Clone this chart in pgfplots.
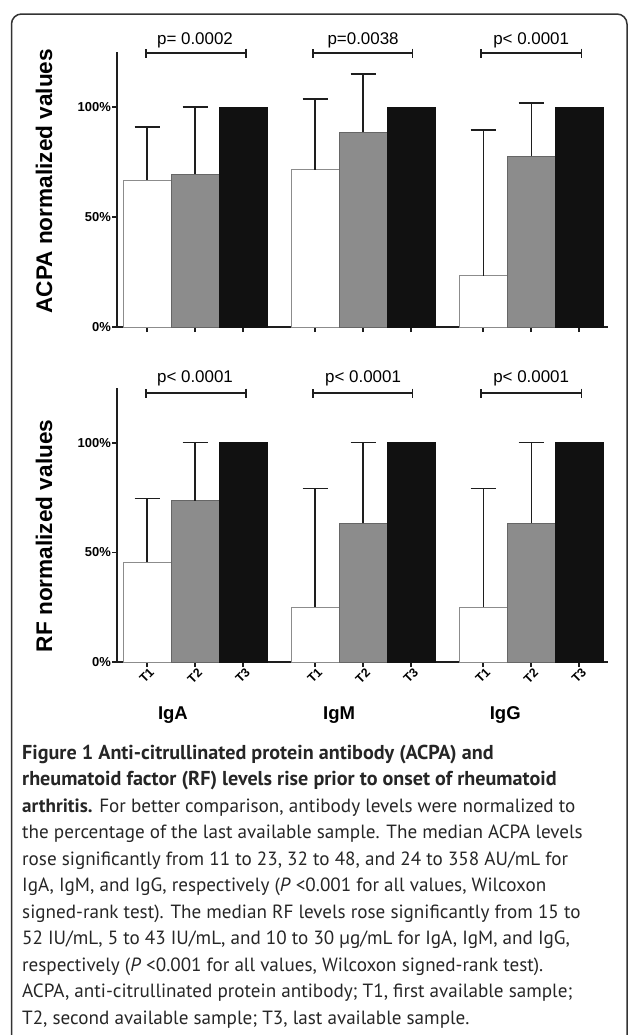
\documentclass[border=0pt]{standalone}
\usepackage{pgfplots}
\pgfplotsset{compat=1.18}
\usepackage{fontspec}
\setmainfont{Liberation Sans}
\newfontfamily\capfont{PT Sans}
\usetikzlibrary{arrows.meta}
\definecolor{barg}{RGB}{140,140,140}
\definecolor{bark}{RGB}{17,17,17}
\definecolor{axc}{RGB}{30,30,30}

\pgfplotsset{
  panel/.style={
    scale only axis, width=491bp,
    xmin=0.375, xmax=10.6, ymin=0, ymax=125,
    axis x line=bottom, axis y line=left,
    axis line style={-, line width=1.5bp, axc},
    ytick={0,50,100}, yticklabels={0\%,50\%,100\%},
    yticklabel style={font=\bfseries\fontsize{13}{13}\selectfont, inner sep=1bp},
    xtick={1,2,3,4.5,5.5,6.5,8,9,10},
    tick align=outside, major tick length=5bp,
    tick style={line width=1.5bp, axc},
    ybar, bar shift=0pt, bar width=1, clip=false,
    ylabel style={font=\bfseries\fontsize{22.7}{22.7}\selectfont, anchor=center},
  },
  t1/.style={fill=white, draw=black!45, line width=1bp},
  t2/.style={fill=barg, draw=black!60, line width=1bp},
  t3/.style={fill=bark, draw=bark, line width=1bp},
  eb/.style={error bars/.cd, y dir=plus, y explicit, error mark=|,
    error bar style={line width=1.3bp, axc},
    error mark options={line width=1.3bp, axc, mark size=12.5bp}},
}
\tikzset{
  brk/.style={line width=1.5bp, axc, {Bar[width=9bp]}-{Bar[width=9bp]}},
  ptxt/.style={anchor=base, inner sep=0pt, font=\fontsize{17}{17}\selectfont},
}

\begin{document}
\begin{tikzpicture}
\path[use as bounding box] (0,0) rectangle (628bp,-1035bp);
\draw[line width=1.5bp, black!80, rounded corners=10bp]
  (11.5bp,-1045bp) -- (11.5bp,-14bp) -- (627bp,-14bp) -- (627bp,-1045bp);

% ACPA panel
\begin{axis}[panel, at={(117bp,-327bp)}, anchor=south west, height=275bp,
  xticklabels={},
  ylabel={ACPA normalized values},
  ylabel style={at={(axis description cs:-0.1487,0.53)}}]
  \addplot[t1, eb] coordinates {(1,66.8) +- (0,24.1) (4.5,71.4) +- (0,32.2) (8,23.2) +- (0,66.3)};
  \addplot[t2, eb] coordinates {(2,69.5) +- (0,30.5) (5.5,88.6) +- (0,26.4) (9,77.7) +- (0,24.1)};
  \addplot[t3] coordinates {(3,100) (6.5,100) (10,100)};
  \draw[brk] (axis cs:0.96,124.5) -- (axis cs:3.08,124.5);
  \draw[brk] (axis cs:4.44,124.5) -- (axis cs:6.54,124.5);
  \draw[brk] (axis cs:7.94,124.5) -- (axis cs:10.06,124.5);
  \node[ptxt] at (axis cs:2.0,128.6) {p= 0.0002};
  \node[ptxt] at (axis cs:5.5,128.6) {p=0.0038};
  \node[ptxt] at (axis cs:9.0,128.6) {p< 0.0001};
\end{axis}

% RF panel
\begin{axis}[panel, at={(117bp,-662bp)}, anchor=south west, height=274bp,
  xticklabels={T1,T2,T3,T1,T2,T3,T1,T2,T3},
  xticklabel style={rotate=45, anchor=east, inner sep=0pt, yshift=-6bp, xshift=1bp,
    font=\bfseries\fontsize{12.5}{12.5}\selectfont},
  ylabel={RF normalized values},
  ylabel style={at={(axis description cs:-0.1487,0.46)}}]
  \addplot[t1, eb] coordinates {(1,45.5) +- (0,29.0) (4.5,25.0) +- (0,54.0) (8,25.0) +- (0,54.0)};
  \addplot[t2, eb] coordinates {(2,73.6) +- (0,26.4) (5.5,63.2) +- (0,36.8) (9,63.2) +- (0,36.8)};
  \addplot[t3] coordinates {(3,100) (6.5,100) (10,100)};
  \draw[brk] (axis cs:0.96,122.7) -- (axis cs:3.08,122.7);
  \draw[brk] (axis cs:4.44,122.7) -- (axis cs:6.54,122.7);
  \draw[brk] (axis cs:7.94,122.7) -- (axis cs:10.06,122.7);
  \node[ptxt] at (axis cs:2.0,127.3) {p< 0.0001};
  \node[ptxt] at (axis cs:5.5,127.3) {p< 0.0001};
  \node[ptxt] at (axis cs:9.0,127.3) {p< 0.0001};
  \node[font=\bfseries\fontsize{18.6}{18.6}\selectfont] at (axis cs:1.54,-24) {IgA};
  \node[font=\bfseries\fontsize{18.6}{18.6}\selectfont] at (axis cs:5.0,-24) {IgM};
  \node[font=\bfseries\fontsize{18.6}{18.6}\selectfont] at (axis cs:8.46,-24) {IgG};
\end{axis}

% caption
\begin{scope}[every node/.style={anchor=base west, inner sep=0pt,
    font=\capfont\fontsize{19.2}{19.2}\selectfont, text=black!85}]
\node[font=\capfont\bfseries\fontsize{20.2}{20.2}\selectfont] at (22bp,-759bp)   {Figure 1 Anti-citrullinated protein antibody (ACPA) and};
\node[font=\capfont\bfseries\fontsize{20.2}{20.2}\selectfont] at (22bp,-785.5bp) {rheumatoid factor (RF) levels rise prior to onset of rheumatoid};
\node at (22bp,-812bp)   {\textbf{arthritis.} For better comparison, antibody levels were normalized to};
\node at (22bp,-838.5bp) {the percentage of the last available sample. The median ACPA levels};
\node at (22bp,-865bp)   {rose significantly from 11 to 23, 32 to 48, and 24 to 358 AU/mL for};
\node at (22bp,-891.5bp) {IgA, IgM, and IgG, respectively (\textit{P} <0.001 for all values, Wilcoxon};
\node at (22bp,-918bp)   {signed-rank test). The median RF levels rose significantly from 15 to};
\node at (22bp,-944.5bp) {52 IU/mL, 5 to 43 IU/mL, and 10 to 30 µg/mL for IgA, IgM, and IgG,};
\node at (22bp,-971bp)   {respectively (\textit{P} <0.001 for all values, Wilcoxon signed-rank test).};
\node at (22bp,-997.5bp) {ACPA, anti-citrullinated protein antibody; T1, first available sample;};
\node at (22bp,-1024bp)  {T2, second available sample; T3, last available sample.};
\end{scope}
\end{tikzpicture}
\end{document}
